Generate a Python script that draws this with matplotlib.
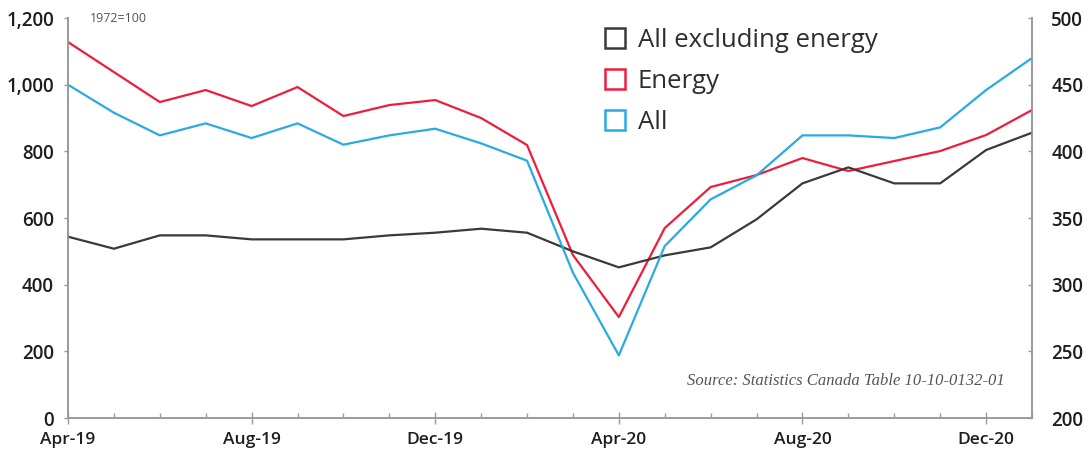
import matplotlib.pyplot as plt
from matplotlib.lines import Line2D
import matplotlib.ticker as mticker

months = ['Apr-19', 'May-19', 'Jun-19', 'Jul-19', 'Aug-19', 'Sep-19', 'Oct-19', 'Nov-19',
          'Dec-19', 'Jan-20', 'Feb-20', 'Mar-20', 'Apr-20', 'May-20', 'Jun-20', 'Jul-20',
          'Aug-20', 'Sep-20', 'Oct-20', 'Nov-20', 'Dec-20', 'Jan-21']

# energy index on the left scale
energy = [1128, 1038, 948, 984, 936, 993, 906, 939, 954, 900, 819, 489,
          303, 570, 693, 729, 780, 741, 771, 801, 849, 924]
# all commodities and all excluding energy on the right scale
all_idx = [450, 429, 412, 421, 410, 421, 405, 412, 417, 406, 393, 309,
           247, 329, 364, 382, 412, 412, 410, 418, 446, 470]
all_ex_energy = [336, 327, 337, 337, 334, 334, 334, 337, 339, 342, 339, 325,
                 313, 322, 328, 349, 376, 388, 376, 376, 401, 414]

c_black = '#3a3a3a'
c_red = '#ee1d3c'
c_blue = '#2aaae2'
c_axis = '#9a9a9a'

plt.rcParams['font.family'] = ['Open Sans', 'DejaVu Sans']

fig = plt.figure(figsize=(10.88, 4.55), dpi=100)
ax = fig.add_axes([0.0625, 0.0813, 0.886, 0.879])
ax2 = ax.twinx()

x = list(range(len(months)))
ax.plot(x, energy, color=c_red, lw=1.6, zorder=3)
ax2.plot(x, all_ex_energy, color=c_black, lw=1.6)
ax2.plot(x, all_idx, color=c_blue, lw=1.6)

ax.set_xlim(0, len(months) - 1)
ax.set_ylim(0, 1200)
ax2.set_ylim(200, 500)

ax.set_xticks(x[::4])
ax.set_xticklabels(months[::4])
ax.set_xticks(x, minor=True)
ax.yaxis.set_major_locator(mticker.MultipleLocator(200))
ax.yaxis.set_major_formatter(mticker.StrMethodFormatter('{x:,.0f}'))
ax2.yaxis.set_major_locator(mticker.MultipleLocator(50))

for a in (ax, ax2):
    a.spines['top'].set_visible(False)
    for s in ('left', 'right', 'bottom'):
        a.spines[s].set_color(c_axis)
        a.spines[s].set_linewidth(1.2)

ax.tick_params(axis='x', which='major', direction='inout', length=8, width=1,
               color=c_axis, labelsize=12.5, labelcolor='#1e1e1e', pad=6)
ax.tick_params(axis='x', which='minor', direction='in', length=3.5, width=1, color=c_axis)
ax.tick_params(axis='y', direction='out', length=3, width=1, color=c_axis,
               labelsize=13.5, labelcolor='#1e1e1e', pad=7)
ax2.tick_params(axis='y', direction='in', length=3, width=1, color=c_axis,
                labelsize=13.5, labelcolor='#1e1e1e', pad=14)
for lbl in ax.get_xticklabels() + ax.get_yticklabels() + ax2.get_yticklabels():
    lbl.set_fontweight('semibold')

ax.text(0.023, 1.0, '1972=100', transform=ax.transAxes, ha='left', va='center',
        fontsize=9, color='#555555')

ax.text(0.972, 0.0925, 'Source: Statistics Canada Table 10-10-0132-01',
        transform=ax.transAxes, ha='right', va='center', fontsize=12,
        fontstyle='italic', family='Liberation Serif', color='#555555')

handles = [Line2D([], [], ls='none', marker='s', markersize=14.5, markerfacecolor='none',
                  markeredgewidth=1.8, markeredgecolor=c) for c in (c_black, c_red, c_blue)]
fig.legend(handles, ['All excluding energy', 'Energy', 'All'], loc='upper left',
           bbox_to_anchor=(0.532, 0.99), frameon=False,
           handletextpad=0.4, labelspacing=0.62, handlelength=1.0,
           labelcolor='#2e2e2e', prop={'size': 18.5})

fig.savefig('out.png', dpi=100, facecolor='white')
